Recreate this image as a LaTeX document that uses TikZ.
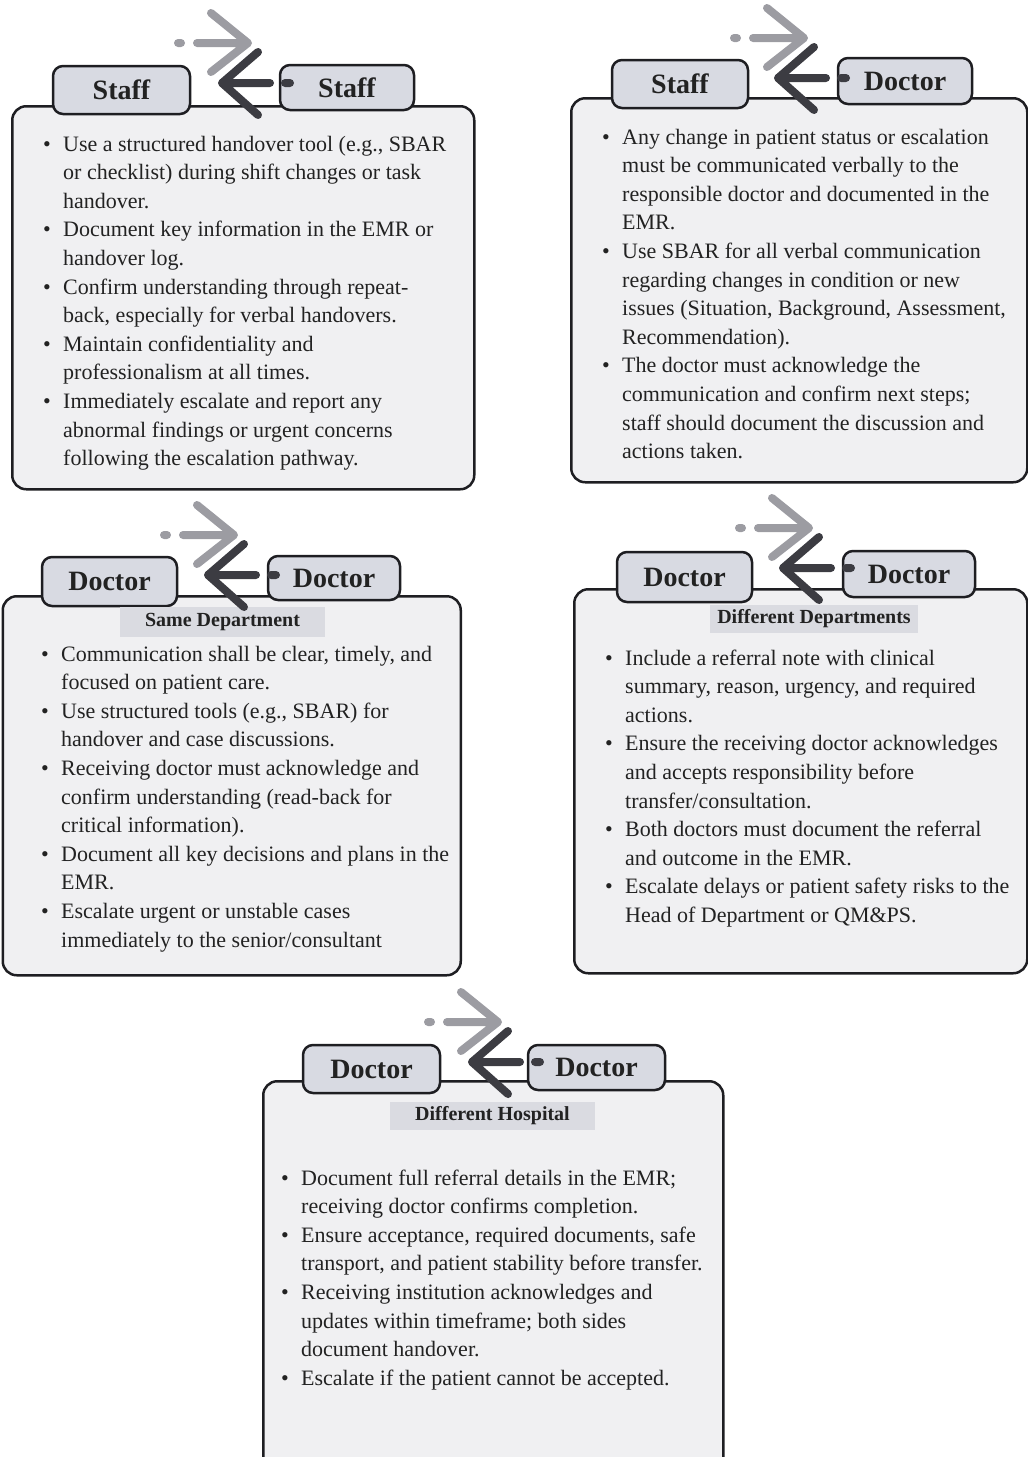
\documentclass[tikz,border=0pt]{standalone}
\usepackage{fontspec}
\setmainfont{Liberation Serif}
\definecolor{boxfill}{HTML}{F0F0F2}
\definecolor{tabfill}{HTML}{D8DAE2}
\definecolor{lblfill}{HTML}{DADBE1}
\definecolor{edgecol}{HTML}{1E1E22}
\definecolor{lightarr}{HTML}{9C9CA2}
\definecolor{darkarr}{HTML}{3C3C42}
\definecolor{txtcol}{HTML}{222222}
\newcommand{\bul}{\makebox[20pt][l]{\textbullet}}
\newcommand{\ind}{\hspace*{20pt}}
\begin{document}
\begin{tikzpicture}[x=1pt,y=-1pt,
  panel/.style={draw=edgecol, line width=2.5pt, fill=boxfill, rounded corners=14pt, anchor=north west, inner sep=0pt},
  tabbox/.style={draw=edgecol, line width=2.5pt, fill=tabfill, rounded corners=10pt, inner sep=0pt, text=txtcol, font=\fontsize{28}{30}\selectfont\bfseries},
  sublabel/.style={fill=lblfill, inner sep=0pt, text=txtcol, font=\fontsize{20}{22}\selectfont\bfseries},
  body/.style={anchor=base west, inner sep=0pt, text=txtcol, font=\fontsize{22}{28.6}\selectfont},
  xchg/.pic={
    \draw[lightarr, line width=8pt, line cap=round, line join=round]
      (-44,-40) -- (-41,-40) (-25,-40) -- (24,-40) (-11,-70) -- (26,-40) -- (-11,-11);
    \draw[darkarr, line width=8pt, line cap=round, line join=round]
      (36,-31) -- (0,0) -- (36,32) (0,0) -- (48,0) (63,0) -- (68,0);
  }]
\useasboundingbox (0,0) rectangle (1028,1457);
\clip (0,0) rectangle (1028,1457);

% panels
\node[panel, minimum width=462pt, minimum height=383pt] (p1) at (11,105) {};
\node[panel, minimum width=456pt, minimum height=384pt] (p2) at (570,97) {};
\node[panel, minimum width=458pt, minimum height=379pt] (p3) at (1.5,595) {};
\node[panel, minimum width=453pt, minimum height=384pt] (p4) at (573,588) {};
\node[panel, minimum width=460pt, minimum height=420pt] (p5) at (262,1080) {};

% tabs
\node[tabbox, minimum width=137pt, minimum height=48pt] (t1a) at (121.5,90) {Staff};
\node[tabbox, minimum width=134pt, minimum height=45pt] (t1b) at (347,87.5) {Staff};
\node[tabbox, minimum width=136pt, minimum height=48pt] (t2a) at (680,84) {Staff};
\node[tabbox, minimum width=134pt, minimum height=46pt] (t2b) at (905,81) {Doctor};
\node[tabbox, minimum width=135pt, minimum height=49pt] (t3a) at (109.5,581.5) {Doctor};
\node[tabbox, minimum width=132pt, minimum height=44pt] (t3b) at (334,578) {Doctor};
\node[tabbox, minimum width=135pt, minimum height=50pt] (t4a) at (684.5,577) {Doctor};
\node[tabbox, minimum width=132pt, minimum height=46pt] (t4b) at (909,574) {Doctor};
\node[tabbox, minimum width=137pt, minimum height=48pt] (t5a) at (371.5,1069) {Doctor};
\node[tabbox, minimum width=137pt, minimum height=45pt] (t5b) at (596.5,1067.5) {Doctor};

% sub labels
\node[sublabel, minimum width=205pt, minimum height=30pt] (s3) at (222.5,622) {Same Department};
\node[sublabel, minimum width=208pt, minimum height=28pt] (s4) at (814,619) {Different Departments};
\node[sublabel, minimum width=205pt, minimum height=28pt] (s5) at (492.5,1116) {Different Hospital};

% body texts
\node[body] (b1) at (43,151) {\begin{tabular}[t]{@{}l@{}}
\bul Use a structured handover tool (e.g., SBAR\\
\ind or checklist) during shift changes or task\\
\ind handover.\\
\bul Document key information in the EMR or\\
\ind handover log.\\
\bul Confirm understanding through repeat-\\
\ind back, especially for verbal handovers.\\
\bul Maintain confidentiality and\\
\ind professionalism at all times.\\
\bul Immediately escalate and report any\\
\ind abnormal findings or urgent concerns\\
\ind following the escalation pathway.
\end{tabular}};

\node[body] (b2) at (602,144) {\begin{tabular}[t]{@{}l@{}}
\bul Any change in patient status or escalation\\
\ind must be communicated verbally to the\\
\ind responsible doctor and documented in the\\
\ind EMR.\\
\bul Use SBAR for all verbal communication\\
\ind regarding changes in condition or new\\
\ind issues (Situation, Background, Assessment,\\
\ind Recommendation).\\
\bul The doctor must acknowledge the\\
\ind communication and confirm next steps;\\
\ind staff should document the discussion and\\
\ind actions taken.
\end{tabular}};

\node[body] (b3) at (41,661) {\begin{tabular}[t]{@{}l@{}}
\bul Communication shall be clear, timely, and\\
\ind focused on patient care.\\
\bul Use structured tools (e.g., SBAR) for\\
\ind handover and case discussions.\\
\bul Receiving doctor must acknowledge and\\
\ind confirm understanding (read-back for\\
\ind critical information).\\
\bul Document all key decisions and plans in the\\
\ind EMR.\\
\bul Escalate urgent or unstable cases\\
\ind immediately to the senior/consultant
\end{tabular}};

\node[body] (b4) at (605,665) {\begin{tabular}[t]{@{}l@{}}
\bul Include a referral note with clinical\\
\ind summary, reason, urgency, and required\\
\ind actions.\\
\bul Ensure the receiving doctor acknowledges\\
\ind and accepts responsibility before\\
\ind transfer/consultation.\\
\bul Both doctors must document the referral\\
\ind and outcome in the EMR.\\
\bul Escalate delays or patient safety risks to the\\
\ind Head of Department or QM\&PS.
\end{tabular}};

\node[body] (b5) at (281,1185) {\begin{tabular}[t]{@{}l@{}}
\bul Document full referral details in the EMR;\\
\ind receiving doctor confirms completion.\\
\bul Ensure acceptance, required documents, safe\\
\ind transport, and patient stability before transfer.\\
\bul Receiving institution acknowledges and\\
\ind updates within timeframe; both sides\\
\ind document handover.\\
\bul Escalate if the patient cannot be accepted.
\end{tabular}};

% exchange arrows
\pic at (222,83) {xchg};
\pic at (778,78) {xchg};
\pic at (208,575) {xchg};
\pic at (783,568) {xchg};
\pic at (472,1062) {xchg};
\end{tikzpicture}
\end{document}
